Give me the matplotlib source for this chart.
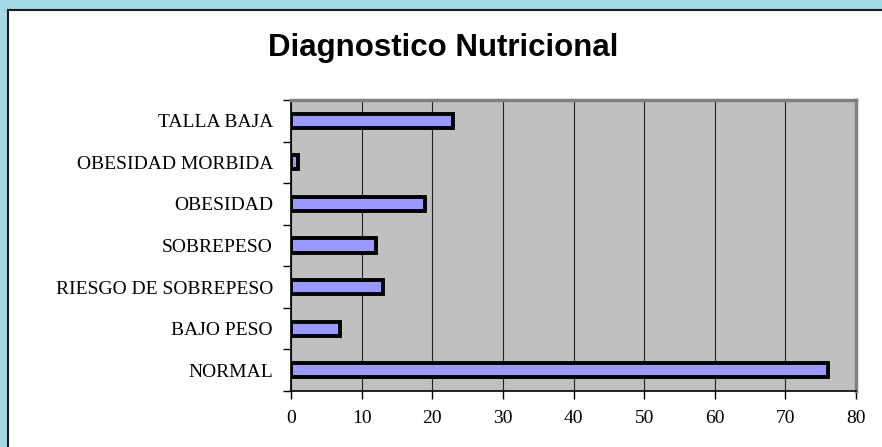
import numpy as np
import matplotlib.pyplot as plt
from matplotlib.patches import Rectangle

categorias = ['NORMAL', 'BAJO PESO', 'RIESGO DE SOBREPESO', 'SOBREPESO',
              'OBESIDAD', 'OBESIDAD MORBIDA', 'TALLA BAJA']
valores = [76, 7, 13, 12, 19, 1, 23]
x_ticks = [0, 10, 20, 30, 40, 50, 60, 70, 80]

fig = plt.figure(figsize=(8.82, 4.47), dpi=100)
fig.patch.set_facecolor('#a4d8e4')

# white chart panel with dark border
panel = Rectangle((8 / 882, -0.05), 1.0, 1 - 10 / 447 + 0.05, transform=fig.transFigure,
                  facecolor='white', edgecolor='#1a1a1a', linewidth=1.5, zorder=-1)
fig.patches.append(panel)

ax = fig.add_axes([291 / 882, 1 - 391 / 447, (856 - 291) / 882, (391 - 100) / 447])
ax.set_zorder(2)
ax.set_facecolor('#c0c0c0')

y = np.arange(len(categorias))
ax.barh(y, valores, height=0.34, color='#9999ff', edgecolor='black', linewidth=2.8, zorder=3)

ax.set_xlim(0, 80)
ax.set_ylim(-0.5, len(categorias) - 0.5)
ax.set_xticks(x_ticks)
ax.set_xticklabels([str(t) for t in x_ticks], fontfamily='Liberation Serif', fontsize=14)
ax.xaxis.grid(True, color='#222222', linewidth=0.8, zorder=1)
ax.set_axisbelow(True)

ax.set_yticks(np.arange(-0.5, len(categorias), 1.0))
ax.set_yticklabels([])
ax.set_yticks(y, minor=True)
ax.set_yticklabels(categorias, minor=True, fontfamily='Liberation Serif', fontsize=14)
ax.tick_params(axis='y', which='minor', length=0, pad=13)
ax.tick_params(axis='both', which='major', direction='out', length=6, width=1, color='black')
ax.tick_params(axis='x', pad=8)

for s in ['top', 'right']:
    ax.spines[s].set_color('#808080')
    ax.spines[s].set_linewidth(2.5)
for s in ['left', 'bottom']:
    ax.spines[s].set_color('black')
    ax.spines[s].set_linewidth(1.2)

fig.text(443 / 882, 1 - 48 / 447, 'Diagnostico Nutricional', ha='center', va='center',
         fontfamily='Liberation Sans', fontweight='bold', fontsize=22.5)

fig.savefig('out.png', dpi=100, facecolor=fig.get_facecolor())
